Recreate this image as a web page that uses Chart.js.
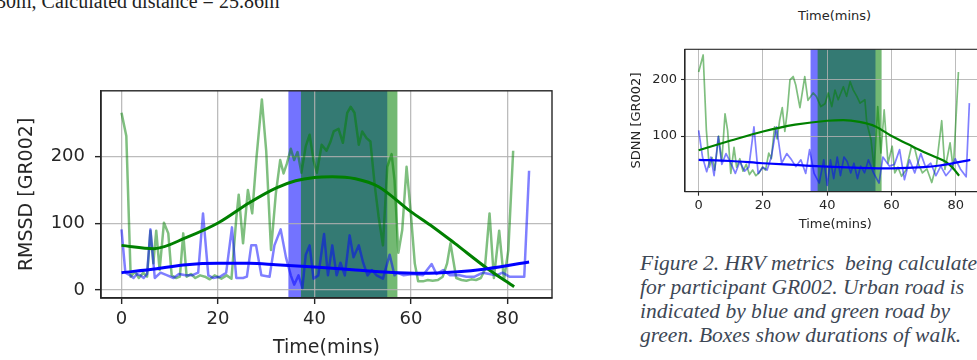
<!DOCTYPE html>
<html>
<head>
<meta charset="utf-8">
<script src="https://cdn.jsdelivr.net/npm/chart.js@4.4.0/dist/chart.umd.min.js"></script>
<style>
  html, body { margin: 0; padding: 0; background: #fff; }
  #page { position: relative; width: 977px; height: 360px; overflow: hidden; }
  canvas { position: absolute; }
  #leftChart { left: 0; top: 70px; }
  #rightChart { left: 600px; top: 30px; }
  .txt { position: absolute; white-space: nowrap; }
  #topNote { left: -4px; top: -9.5px; font: 20px/20px "Liberation Serif", serif; color: #222; }
  #topAxis { left: 834.5px; top: 7.5px; transform: translateX(-50%); font: 13px/15px "DejaVu Sans"; color: #262626; }
  #caption { left: 640px; top: 251px; font: italic 21.5px/24px "Liberation Serif", serif; color: #3d4755; }
</style>
</head>
<body>
<div id="page">
  <div class="txt" id="topNote">30m, Calculated distance = 25.86m</div>
  <div class="txt" id="topAxis">Time(mins)</div>
  <canvas id="leftChart" width="560" height="290"></canvas>
  <canvas id="rightChart" width="400" height="210"></canvas>
  <div class="txt" id="caption">Figure 2. HRV metrics&nbsp; being calculated<br>for participant GR002. Urban road is<br>indicated by blue and green road by<br>green. Boxes show durations of walk.</div>
</div>
<script>
// ticks
const xTickVals = [0, 20, 40, 60, 80];
const rmssdTickVals = [0, 100, 200];
const sdnnTickVals = [100, 200];

// walk durations (mins)
const rmssdUrbanWalk = [34.6, 55.1];
const rmssdGreenWalk = [37.2, 57.2];
const sdnnUrbanWalk = [34.8, 55.0];
const sdnnGreenWalk = [37.0, 56.9];

// RMSSD - green road
const rmssdGreenT = [0,1,1.9,2.8,3.6,4.5,5.3,6.0,6.6,7.2,7.9,8.8,9.7,10.4,11.3,12.1,12.8,13.5,14.4,15.3,16.3,17.3,18.3,19.3,20.7,21.8,22.8,23.8,24.3,25.2,26.2,27.1,28.0,29.1,30.0,31.0,32.0,32.9,33.6,34.3,35.1,35.8,36.5,37.3,38.2,39.0,39.8,40.5,41.5,42.5,43.3,44.0,45.0,45.9,46.8,47.5,48.3,49.2,49.9,50.8,51.6,52.5,53.3,54.2,55.1,56.0,56.6,57.4,58.2,59.1,60.0,60.8,61.5,62.5,63.5,64.5,65.6,66.6,67.5,68.2,69.4,70.5,71.5,72.5,73.5,74.5,75.3,76.3,77.2,78.3,79.3,80.2,81.2];
const rmssdGreenV = [266,231,20,28,18,26,20,89,40,89,30,101,85,22,18,20,85,20,24,18,22,20,16,22,17,22,17,108,143,70,150,115,200,286,209,60,145,195,175,190,212,195,207,176,216,233,195,176,218,209,222,238,242,221,266,275,266,218,238,228,223,157,110,67,185,204,165,56,90,185,113,40,13,13,15,14,15,20,40,70,18,15,14,16,15,18,30,115,18,89,15,60,209];
// RMSSD - urban road
const rmssdUrbanT = [0,0.8,1.8,2.5,3.2,3.9,4.6,5.3,6.0,6.9,8.1,9.5,10.8,11.9,13.3,14.6,15.9,16.9,18.0,19.0,20.4,21.7,22.9,23.8,25.2,26.0,26.9,27.9,29.0,30.7,31.7,33.0,34.1,35.1,35.8,36.7,37.5,38.2,39.0,39.8,40.8,42.0,42.8,43.7,44.6,45.4,46.3,47.3,48.1,49.2,50.1,51.0,51.9,52.9,54.2,55.6,56.6,57.1,58.5,60.5,62.5,64.3,65.3,66.7,68.1,70.1,71.5,73.2,74.9,76.3,77.7,79.0,80.4,81.8,83.5,84.5];
const rmssdUrbanV = [91,26,22,18,24,22,18,24,91,18,26,22,18,24,22,22,26,115,22,18,20,26,94,18,18,20,67,67,22,20,67,91,49,22,8,22,3,53,67,17,22,84,22,67,22,41,22,82,49,67,41,22,30,22,17,53,22,26,22,24,22,39,24,30,22,22,20,20,26,24,22,26,20,20,20,179];
// RMSSD - fitted trends
const rmssdGreenFitT = [0,6.7,13.5,20.1,26.5,32,36.1,40,43.7,48.5,53.3,59.9,64.5,69.1,75.9,81.4];
const rmssdGreenFitV = [67,62,79,101,131,153,164,169,170,167,155,118,95,70,32,5];
const rmssdUrbanFitT = [0,7.3,13.5,20.1,26.5,32,40,48.5,55.3,62.2,69.1,75.9,84.5];
const rmssdUrbanFitV = [26,32,38,40,40,38,34.5,30,26.5,25,27,32,42];

// SDNN - green road
const sdnnGreenT = [0,1.4,2.4,3.3,4.2,5.0,6.2,7.2,8.2,9.0,10.0,11.0,11.8,12.8,13.8,14.8,15.8,16.8,17.8,18.8,19.8,20.8,21.8,22.6,23.6,24.4,25.2,26.0,26.8,27.6,28.4,29.4,30.2,31.5,33.0,34.0,35.6,36.6,38.0,39.3,40.3,41.4,42.4,43.4,45.0,46.0,47.1,48.1,49.2,50.2,51.7,52.3,53.6,54.6,55.7,56.7,57.7,58.9,60.2,61.0,62.0,63.1,64.5,66.2,67.2,68.4,69.6,71.0,72.5,74.0,75.6,76.6,78.2,79.2,80.8];
const sdnnGreenV = [213,243,110,45,62,40,100,55,139,110,34,80,45,60,38,50,32,40,30,35,45,40,70,60,116,95,128,150,108,145,199,205,190,150,205,163,176,170,152,157,176,152,181,164,187,170,196,181,170,158,164,123,94,41,152,70,146,52,82,35,45,29,40,82,78,50,35,42,18,50,127,41,88,41,213];
// SDNN - urban road
const sdnnUrbanT = [0,1.2,2.5,3.8,4.8,6.1,7.2,8.5,9.8,11.4,12.8,14.3,15.6,17.2,18.5,20.0,21.3,22.6,24.2,25.8,27.4,28.9,30.2,31.8,33.3,34.5,35.9,37.5,38.9,40.0,41.0,42.0,43.1,44.1,45.2,46.2,47.3,48.3,49.4,50.4,51.6,52.8,54.4,56.1,57.3,59.3,60.9,62.5,64.0,65.6,67.2,69.1,70.6,72.2,73.8,75.3,76.9,78.4,79.8,81.4,83.2,84.2];
const sdnnUrbanV = [110,63,37,63,30,99,50,69,55,34,55,38,45,116,34,45,40,63,116,52,69,58,46,58,34,76,34,17,58,13,58,25,63,30,63,55,35,52,25,47,35,58,35,17,63,47,50,76,23,58,35,69,45,52,30,47,30,40,60,42,28,158];
// SDNN - fitted trends
const sdnnGreenFitT = [0,10,20,30,40,45,50,55,60,65,70,74,77,79,81];
const sdnnGreenFitV = [75,92,108,120,127,128,125,117,100,86,72,62,54,44,30];
const sdnnUrbanFitT = [0,10,20,30,40,50,60,70,75,80,84.5];
const sdnnUrbanFitV = [58,56,52,49,46,44,43,45,48,53,58];

const pts = (ts, vs) => ts.map((t, i) => ({ x: t, y: vs[i] }));
const ink = '#262626';

Chart.defaults.animation = false;
Chart.defaults.font.family = 'DejaVu Sans';

// axvspans under the grid, frame on top
const walkBoxes = {
  id: 'walkBoxes',
  beforeDraw(chart, args, opts) {
    const { ctx, chartArea: a, scales: { x } } = chart;
    ctx.save();
    [[opts.urban, 'rgba(0,0,255,0.55)'], [opts.green, 'rgba(0,128,0,0.55)']].forEach(([span, col]) => {
      const x0 = x.getPixelForValue(span[0]);
      const x1 = x.getPixelForValue(span[1]);
      ctx.fillStyle = col;
      ctx.fillRect(x0, a.top, x1 - x0, a.bottom - a.top);
    });
    ctx.restore();
  },
  afterDraw(chart, args, opts) {
    const { ctx, chartArea: a } = chart;
    ctx.save();
    ctx.strokeStyle = ink;
    ctx.lineWidth = opts.frame;
    ctx.strokeRect(a.left, a.top, a.right - a.left, a.bottom - a.top);
    ctx.restore();
  }
};

function hrvChart(id, o) {
  return new Chart(document.getElementById(id), {
    type: 'line',
    data: {
      datasets: [
        { data: pts(o.urbanFitT, o.urbanFitV), borderColor: '#0000ff', borderWidth: o.fitW, cubicInterpolationMode: 'monotone' },
        { data: pts(o.greenFitT, o.greenFitV), borderColor: '#008000', borderWidth: o.fitW, cubicInterpolationMode: 'monotone' },
        { data: pts(o.urbanT, o.urbanV), borderColor: 'rgba(0,0,255,0.5)', borderWidth: o.rawW },
        { data: pts(o.greenT, o.greenV), borderColor: 'rgba(0,128,0,0.5)', borderWidth: o.rawW },
      ]
    },
    options: {
      responsive: false,
      layout: { padding: o.pad },
      elements: { point: { radius: 0 }, line: { tension: 0, borderJoinStyle: 'round' } },
      plugins: {
        legend: { display: false },
        tooltip: { enabled: false },
        walkBoxes: { urban: o.urbanWalk, green: o.greenWalk, frame: o.frameW }
      },
      scales: {
        x: {
          type: 'linear', min: -4.25, max: 89.25,
          afterBuildTicks: s => { s.ticks = xTickVals.map(v => ({ value: v })); },
          afterFit: s => { s.height = o.xHeight; },
          ticks: { color: ink, font: { size: o.tickSize }, padding: o.xTickPad, maxRotation: 0, autoSkip: false },
          grid: { color: 'rgba(176,176,176,0.85)', lineWidth: o.gridW, tickLength: o.tickLen, tickColor: ink, tickWidth: o.frameW },
          border: { display: true, color: ink, width: o.frameW },
          title: { display: true, text: 'Time(mins)', color: ink, font: { size: o.titleSize }, padding: o.xTitlePad }
        },
        y: {
          min: o.yMin, max: o.yMax,
          afterBuildTicks: s => { s.ticks = o.yTicks.map(v => ({ value: v })); },
          afterFit: s => { s.width = o.yWidth; },
          ticks: { color: ink, font: { size: o.tickSize }, padding: o.yTickPad, autoSkip: false },
          grid: { color: 'rgba(176,176,176,0.85)', lineWidth: o.gridW, tickLength: o.tickLen, tickColor: ink, tickWidth: o.frameW },
          border: { display: true, color: ink, width: o.frameW },
          title: { display: true, text: o.yTitle, color: ink, font: { size: o.titleSize }, padding: o.yTitlePad }
        }
      }
    },
    plugins: [walkBoxes]
  });
}

hrvChart('leftChart', {
  greenT: rmssdGreenT, greenV: rmssdGreenV, urbanT: rmssdUrbanT, urbanV: rmssdUrbanV,
  greenFitT: rmssdGreenFitT, greenFitV: rmssdGreenFitV, urbanFitT: rmssdUrbanFitT, urbanFitV: rmssdUrbanFitV,
  urbanWalk: rmssdUrbanWalk, greenWalk: rmssdGreenWalk,
  yTicks: rmssdTickVals, yMin: -12, yMax: 299, yTitle: 'RMSSD [GR002]',
  pad: { left: 0, top: 8, right: 8, bottom: 0 }, yWidth: 101, xHeight: 62,
  tickSize: 18, titleSize: 19, tickLen: 6, xTickPad: 5, yTickPad: 10,
  xTitlePad: { top: 0, bottom: 1 }, yTitlePad: { top: 15.6, bottom: 0 },
  rawW: 2.5, fitW: 3, frameW: 1.4, gridW: 1.3
});

hrvChart('rightChart', {
  greenT: sdnnGreenT, greenV: sdnnGreenV, urbanT: sdnnUrbanT, urbanV: sdnnUrbanV,
  greenFitT: sdnnGreenFitT, greenFitV: sdnnGreenFitV, urbanFitT: sdnnUrbanFitT, urbanFitV: sdnnUrbanFitV,
  urbanWalk: sdnnUrbanWalk, greenWalk: sdnnGreenWalk,
  yTicks: sdnnTickVals, yMin: 1.8, yMax: 253, yTitle: 'SDNN [GR002]',
  pad: { left: 0, top: 19.3, right: 14.4, bottom: 0 }, yWidth: 85, xHeight: 48.3,
  tickSize: 13, titleSize: 13, tickLen: 4, xTickPad: 2.5, yTickPad: 4,
  xTitlePad: { top: 0, bottom: 7.2 }, yTitlePad: { top: 28.9, bottom: 0 },
  rawW: 1.7, fitW: 2.2, frameW: 1.1, gridW: 1
});
</script>
</body>
</html>
